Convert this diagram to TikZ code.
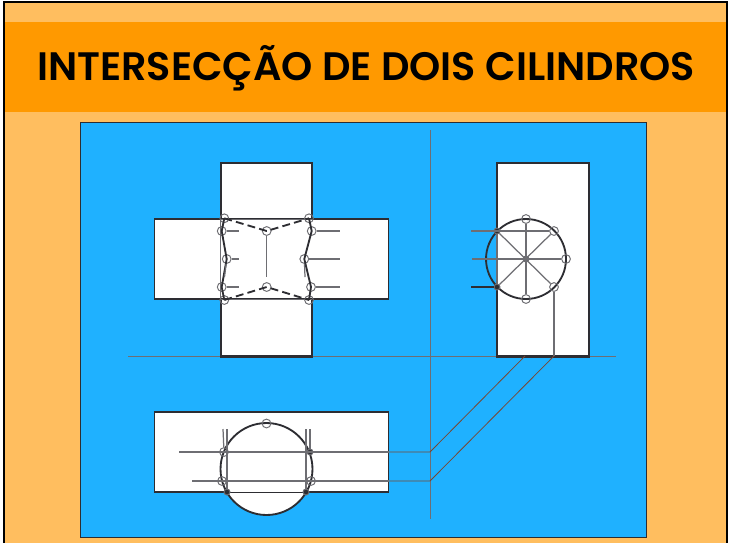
\documentclass[tikz,border=0pt]{standalone}
\usepackage{fontspec}
\setmainfont{Poppins}
\newfontfamily\titlefont{Poppins SemiBold}
\usepackage{xcolor}
\definecolor{pagefill}{RGB}{255,190,95}
\definecolor{bandfill}{RGB}{255,153,0}
\definecolor{skyfill}{RGB}{31,177,255}
\definecolor{inkdark}{RGB}{45,45,50}
\definecolor{inkgrey}{RGB}{110,110,115}
\definecolor{inkrust}{RGB}{120,70,50}
\usetikzlibrary{calc}
\tikzstyle{cylbox} = [
    rectangle,
    inner sep=0pt,
    fill=white,
    draw=inkdark,
    line width=.75pt,
]
\tikzstyle{pointring} = [
    circle,
    inner sep=0pt,
    minimum size=5pt,
    draw=inkgrey,
    line width=.55pt,
]
\tikzstyle{pointdark} = [
    pointring,
    fill=inkdark,
    minimum size=3.4pt,
]
\tikzstyle{contour} = [draw=inkdark,line width=1.05pt]
\tikzstyle{helper} = [draw=inkgrey,line width=.7pt]
\tikzstyle{refline} = [draw=inkrust,line width=.45pt]
\tikzstyle{hidden} = [contour,dash pattern=on 4.5pt off 2.4pt]

\begin{document}
\begin{tikzpicture}[x=0.02cm,y=-0.02cm]
    \useasboundingbox (0,0) rectangle (729,542);
    % page
    \fill [white] (0,0) rectangle (729,542);
    \draw [black,line width=1.2pt,fill=pagefill] (4,2) rectangle (727,560);
    \fill [bandfill] (5,22) rectangle (726,112);
    \node (title) at (366,68) {\fontsize{22.6}{28}\titlefont INTERSECÇÃO DE DOIS CILINDROS};
    \node (sheet) at (363,329.5) [rectangle,inner sep=0pt,minimum width=11.32cm,minimum height=8.3cm,fill=skyfill,draw=inkdark,line width=.5pt] {};

    % cylinders
    \node (frontv) at (266.5,259.5) [cylbox,minimum width=1.82cm,minimum height=3.86cm] {};
    \node (fronth) at (271.5,259) [cylbox,minimum width=4.68cm,minimum height=1.6cm] {};
    \fill [white] (222,220) rectangle (311.5,298);
    \draw [inkdark,line width=.75pt] (frontv.north west) -- ++(0,56) (frontv.north east) -- ++(0,56);
    \draw [inkdark,line width=.75pt] (frontv.south west) -- ++(0,-57) (frontv.south east) -- ++(0,-57);
    \draw [inkgrey,line width=.5pt] (221,219) -- (312,219) (221,299) -- (312,299) (220.5,219) -- (220.5,299);
    \node (side) at (543,259.5) [cylbox,minimum width=1.84cm,minimum height=3.86cm] {};
    \node (plan) at (271.5,452) [cylbox,minimum width=4.68cm,minimum height=1.6cm] {};

    % axes
    \coordinate (axisl) at (128,356);
    \coordinate (axisr) at (616,356);
    \coordinate (axist) at (430,130);
    \coordinate (axisb) at (430,519);
    \draw [helper,line width=.45pt] (axisl) -- (axisr);
    \draw [helper,line width=.3pt] (axist) -- (axisb);
    \draw [inkdark,line width=1pt] (frontv.south west) -- (frontv.south east);
    \draw [inkdark,line width=1pt] (side.south west) -- (side.south east);

    % side view
    \node (sidec) at (526,259) [circle,inner sep=0pt,minimum size=1.6cm,contour] {};
    \foreach \n/\x/\y in {st/526/219,sb/526/299,sr/566/259,sur/554/231,slr/554/287} {
        \node (\n) at (\x,\y) [pointring] {};
    }
    \foreach \n/\x/\y in {sul/497/231,sll/497/287,so/526/259} {
        \node (\n) at (\x,\y) [pointdark] {};
    }
    \coordinate (sa) at (471,231);
    \coordinate (sm) at (472,259);
    \coordinate (sc) at (471,287);
    \coordinate (sf) at (554,356);
    \coordinate (sg) at (525,356);
    \draw [helper] (st) -- (sb);
    \draw [helper] (sul) -- (slr);
    \draw [helper] (sll) -- (sur);
    \draw [helper] (sul) -- (sll);
    \draw [helper] (sa) -- (sur);
    \draw [helper] (sm) -- (sr);
    \draw [inkdark,line width=.6pt] (sc) -- (sll);
    \draw [helper] (slr) -- (sf);

    % front view
    \foreach \n/\x/\y in {fa/224.3/218.3,fb/221.7/231,fc/226.7/259,fd/221.7/287,fe/224.3/300,%
        fj/309/218.3,fk/311.7/231,fl/304.3/259,fm/311/287,fn/309/300,fp/266.7/231,fq/266.7/287} {
        \node (\n) at (\x,\y) [pointring] {};
    }
    \draw [contour] (fa.center) -- (fb.center) -- (fc.center) -- (fd.center) -- (fe.center);
    \draw [contour] (fj.center) -- (fk.center) -- (fl.center) -- (fm.center) -- (fn.center);
    \draw [hidden] (fa.center) -- (fp.center) -- (fj.center);
    \draw [hidden] (fe.center) -- (fq.center) -- (fn.center);
    \foreach \n/\x/\y in {ga/239/231,gb/239/259,gc/239/287,gd/340/231,ge/340/259,gf/340/287,gg/266.7/277,gh/224.5/277,gi/305/277} {
        \coordinate (\n) at (\x,\y);
    }
    \draw [helper] (fb) -- (ga);
    \draw [helper] (fc) -- (gb);
    \draw [helper] (fd) -- (gc);
    \draw [helper] (fk) -- (gd);
    \draw [helper] (fl) -- (ge);
    \draw [helper] (fm) -- (gf);
    \draw [helper] (fp) -- (gg);
    \draw [helper] (fc) -- (gh);
    \draw [helper] (fl) -- (gi);

    % plan view
    \node (planc) at (266.5,469) [circle,inner sep=0pt,minimum size=1.84cm,fill=white,contour] {};
    \draw [inkdark,line width=.75pt] (plan.south west) -- (plan.south east);
    \foreach \n/\x/\y in {pt/266.5/423.5,pa/224/452,pb/222/481,pc/311/481} {
        \node (\n) at (\x,\y) [pointring] {};
    }
    \foreach \n/\x/\y in {pd/310/452,pe/227/492,pf/306/492} {
        \node (\n) at (\x,\y) [pointdark] {};
    }
    \foreach \n/\x/\y in {qa/179/452,qb/192/481,qc/430/452,qd/430/481,qe/223/429,qf/227/429,qg/306/429,qh/310/429} {
        \coordinate (\n) at (\x,\y);
    }
    \draw [helper] (qe) -- (pa);
    \draw [helper] (qf) -- (pe);
    \draw [helper] (qg) -- (pf);
    \draw [helper] (qh) -- (pd);
    \draw [helper] (qa) -- (plan.east |- qa);
    \draw [helper] (qb) -- (plan.east |- qb);

    % transfer lines
    \draw [refline] (plan.east |- qa) -- (qc) -- (sg);
    \draw [refline] (plan.east |- qb) -- (qd) -- (sf);
\end{tikzpicture}
\end{document}
